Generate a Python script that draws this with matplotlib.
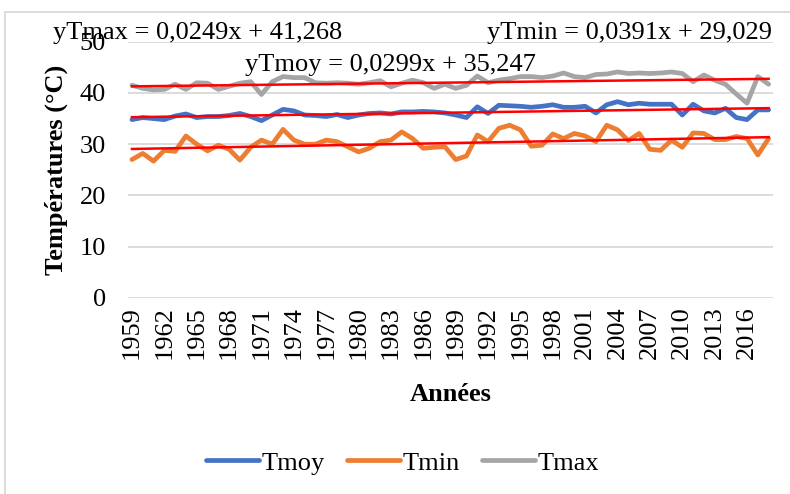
import numpy as np
import matplotlib.pyplot as plt
from matplotlib.patches import Rectangle

plt.rcParams['font.family'] = ['Liberation Serif', 'DejaVu Serif']

# -----------------------------
# Data : températures annuelles
# -----------------------------
annees = list(range(1959, 2019))

tmoy = [34.8, 35.2, 35.0, 34.8, 35.5, 35.9, 35.2, 35.4, 35.4, 35.6, 36.0, 35.4,
        34.6, 35.7, 36.8, 36.5, 35.7, 35.6, 35.4, 35.8, 35.2, 35.7, 36.0, 36.1,
        35.9, 36.3, 36.3, 36.4, 36.3, 36.1, 35.7, 35.2, 37.3, 36.0, 37.6, 37.5,
        37.4, 37.2, 37.4, 37.7, 37.2, 37.2, 37.4, 36.1, 37.7, 38.3, 37.7, 38.0,
        37.8, 37.8, 37.8, 35.7, 37.8, 36.5, 36.1, 37.0, 35.2, 34.8, 36.7, 36.7]

tmin = [27.0, 28.2, 26.7, 28.8, 28.6, 31.6, 30.0, 28.7, 29.8, 29.0, 26.9, 29.4,
        30.8, 30.0, 32.9, 30.8, 30.0, 30.0, 30.8, 30.5, 29.5, 28.5, 29.2, 30.5,
        30.8, 32.4, 31.1, 29.2, 29.4, 29.5, 27.0, 27.7, 31.8, 30.5, 33.1, 33.7,
        32.8, 29.6, 29.8, 32.0, 31.1, 32.1, 31.6, 30.5, 33.7, 32.8, 30.7, 32.1,
        29.0, 28.8, 30.8, 29.4, 32.2, 32.1, 30.9, 30.9, 31.5, 31.1, 27.9, 31.1]

tmax = [41.5, 40.9, 40.6, 40.7, 41.7, 40.7, 42.0, 41.9, 40.7, 41.3, 41.9, 42.2,
        39.7, 42.2, 43.2, 43.0, 43.0, 42.0, 41.9, 42.0, 41.9, 41.7, 42.0, 42.4,
        41.2, 41.9, 42.5, 42.0, 40.9, 41.7, 40.9, 41.5, 43.3, 42.0, 42.5, 42.8,
        43.2, 43.2, 43.0, 43.3, 43.9, 43.2, 43.0, 43.6, 43.7, 44.1, 43.8, 43.9,
        43.8, 43.9, 44.1, 43.8, 42.2, 43.5, 42.5, 41.7, 39.8, 38.0, 43.2, 41.7]

# coefficients des courbes de tendance (pente, ordonnée)
tend_tmax = (0.0249, 41.268)
tend_tmin = (0.0391, 29.029)
tend_tmoy = (0.0299, 35.247)

# -----------------------------
# Figure
# -----------------------------
fig = plt.figure(figsize=(7.9, 4.94), dpi=100)
ax = fig.add_axes([0.162, 0.397, 0.816, 0.5185])

x = np.arange(len(annees))
ax.plot(x, tmoy, color='#4472C4', lw=3.4, label='Tmoy', solid_capstyle='round')
ax.plot(x, tmin, color='#ED7D31', lw=3.4, label='Tmin', solid_capstyle='round')
ax.plot(x, tmax, color='#A5A5A5', lw=3.4, label='Tmax', solid_capstyle='round')

# droites de tendance linéaire (x = 1..n comme dans Excel)
for a, b in (tend_tmax, tend_tmoy, tend_tmin):
    ax.plot(x, np.polyval([a, b], x + 1), color='#FF0000', lw=1.8)

ax.set_xlim(-0.37, len(annees) - 1 + 0.37)
ax.set_ylim(0, 50)
ax.set_yticks(range(0, 51, 10))
ax.yaxis.grid(True, color='#D9D9D9', lw=1.3)
ax.set_axisbelow(True)
for s in ax.spines.values():
    s.set_visible(False)
ax.tick_params(axis='both', length=0, labelsize=19)
ax.tick_params(axis='y', pad=16)
ax.tick_params(axis='x', pad=6)

ax.set_xticks(x[::3])
ax.set_xticklabels([str(a) for a in annees[::3]], rotation=90)

ax.set_ylabel('Températures (°C)', fontsize=19, fontweight='bold', labelpad=8)
ax.set_xlabel('Années', fontsize=19, fontweight='bold', labelpad=17)

# équations des tendances
fig.text(0.067, 0.933, 'yTmax = 0,0249x + 41,268', fontsize=19, va='center')
fig.text(0.617, 0.933, 'yTmin = 0,0391x + 29,029', fontsize=19, va='center')
fig.text(0.31, 0.868, 'yTmoy = 0,0299x + 35,247', fontsize=19, va='center')

leg = fig.legend(loc='center', bbox_to_anchor=(0.51, 0.063), ncol=3, frameon=False,
                 fontsize=19, handlelength=2.0, handletextpad=0.1, columnspacing=0.85)

# cadre du graphique
fig.patches.append(Rectangle((5 / 790, -0.05), 1.0, 1 - 12 / 494 + 0.05,
                             transform=fig.transFigure, fill=False,
                             edgecolor='#D9D9D9', lw=1.3))

fig.savefig('out.png', dpi=100)
